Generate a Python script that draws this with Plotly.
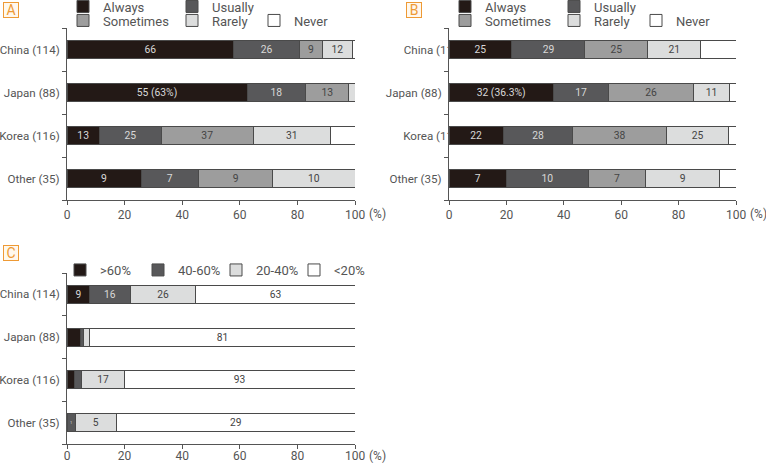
import plotly.graph_objects as go

W, H = 766, 463

# ---------------- data ----------------
categories = ["China (114)", "Japan (88)", "Korea (116)", "Other (35)"]
cat_pos = [0, 1, 2, 3]

freq_names = ["Always", "Usually", "Sometimes", "Rarely", "Never"]

a_always = [66, 55, 13, 9]
a_usually = [26, 18, 25, 7]
a_sometimes = [9, 13, 37, 9]
a_rarely = [12, 2, 31, 10]
a_never = [1, 0, 10, 0]
a_always_text = ["66", "55 (63%)", "13", "9"]
a_usually_text = ["26", "18", "25", "7"]
a_sometimes_text = ["9", "13", "37", "9"]
a_rarely_text = ["12", "", "31", "10"]
a_never_text = ["", "", "", ""]

b_always = [25, 32, 22, 7]
b_usually = [29, 17, 28, 10]
b_sometimes = [25, 26, 38, 7]
b_rarely = [21, 11, 25, 9]
b_never = [14, 2, 3, 2]
b_always_text = ["25", "32 (36.3%)", "22", "7"]
b_usually_text = ["29", "17", "28", "10"]
b_sometimes_text = ["25", "26", "38", "7"]
b_rarely_text = ["21", "11", "25", "9"]
b_never_text = ["", "", "", ""]

share_names = [">60%", "40-60%", "20-40%", "<20%"]
c_gt60 = [9, 4, 3, 0]
c_40_60 = [16, 1, 3, 1]
c_20_40 = [26, 2, 17, 5]
c_lt20 = [63, 81, 93, 29]
c_gt60_text = ["9", "", "", ""]
c_40_60_text = ["16", "", "", "1"]
c_20_40_text = ["26", "", "17", "5"]
c_lt20_text = ["63", "81", "93", "29"]

x_ticks = [0, 20, 40, 60, 80, 100]

# ---------------- style ----------------
FONT = "Roboto, 'Liberation Sans', Arial, sans-serif"
GRAY = "#555555"
LINE = "#4a4a4a"
C_ALWAYS = "#231916"
C_USUALLY = "#58585a"
C_SOMETIMES = "#9d9d9d"
C_RARELY = "#dcdddd"
C_NEVER = "#ffffff"
LIGHT_TXT = "#d8d8d8"
DARK_TXT = "#444444"
ORANGE = "#ee9a35"

fig = go.Figure()


def add_bar(vals, texts, name, color, txtcolor, xa, ya, legend):
    fig.add_trace(go.Bar(
        x=vals, y=cat_pos, orientation="h", name=name,
        text=texts, textposition="inside", insidetextanchor="middle",
        textangle=0,
        textfont=dict(family=FONT, size=12, color=txtcolor),
        marker=dict(color=color, line=dict(color=LINE, width=1)),
        xaxis=xa, yaxis=ya, legend=legend, hoverinfo="skip",
    ))


# Panel A
add_bar(a_always, a_always_text, freq_names[0], C_ALWAYS, LIGHT_TXT, "x", "y", "legend")
add_bar(a_usually, a_usually_text, freq_names[1], C_USUALLY, LIGHT_TXT, "x", "y", "legend")
add_bar(a_sometimes, a_sometimes_text, freq_names[2], C_SOMETIMES, DARK_TXT, "x", "y", "legend2")
add_bar(a_rarely, a_rarely_text, freq_names[3], C_RARELY, DARK_TXT, "x", "y", "legend2")
add_bar(a_never, a_never_text, freq_names[4], C_NEVER, DARK_TXT, "x", "y", "legend3")
# Panel B
add_bar(b_always, b_always_text, freq_names[0], C_ALWAYS, LIGHT_TXT, "x2", "y2", "legend4")
add_bar(b_usually, b_usually_text, freq_names[1], C_USUALLY, LIGHT_TXT, "x2", "y2", "legend4")
add_bar(b_sometimes, b_sometimes_text, freq_names[2], C_SOMETIMES, DARK_TXT, "x2", "y2", "legend5")
add_bar(b_rarely, b_rarely_text, freq_names[3], C_RARELY, DARK_TXT, "x2", "y2", "legend5")
add_bar(b_never, b_never_text, freq_names[4], C_NEVER, DARK_TXT, "x2", "y2", "legend6")
# helper (no marks) so the overlaid label axis of panel B exists
fig.add_trace(go.Scatter(x=[None], y=[None], xaxis="x2", yaxis="y4",
                         mode="markers", showlegend=False, hoverinfo="skip"))
# Panel C
add_bar(c_gt60, c_gt60_text, share_names[0], C_ALWAYS, LIGHT_TXT, "x3", "y3", "legend7")
add_bar(c_40_60, c_40_60_text, share_names[1], C_USUALLY, LIGHT_TXT, "x3", "y3", "legend7")
add_bar(c_20_40, c_20_40_text, share_names[2], C_RARELY, DARK_TXT, "x3", "y3", "legend7")
add_bar(c_lt20, c_lt20_text, share_names[3], C_NEVER, DARK_TXT, "x3", "y3", "legend7")


def px_x(p):
    return p / W


def px_y(p):
    return 1 - p / H


def xaxis_cfg(x0, x1, anchor, standoff=0):
    return dict(
        domain=[px_x(x0), px_x(x1)], anchor=anchor, range=[0, 100],
        tickmode="array", tickvals=x_ticks, ticks="outside", ticklen=4,
        tickcolor=GRAY, showline=True, linecolor=GRAY, linewidth=1,
        showgrid=False, zeroline=False, fixedrange=True,
        ticklabelstandoff=standoff,
        tickfont=dict(family=FONT, size=12, color=GRAY),
    )


def yaxis_cfg(y0, y1, anchor, tickvals, ticktext):
    return dict(
        domain=[px_y(y1), px_y(y0)], anchor=anchor, range=[3.5, -0.5],
        tickmode="array", tickvals=tickvals, ticktext=ticktext,
        ticks="outside", ticklen=4, tickcolor="rgba(0,0,0,0)",
        minor=dict(tickmode="array", tickvals=[-0.5, 0.5, 1.5, 2.5, 3.5],
                   ticks="outside", ticklen=4, tickcolor=GRAY),
        showline=True, linecolor=GRAY, linewidth=1,
        showgrid=False, zeroline=False, fixedrange=True,
        tickfont=dict(family=FONT, size=11.6, color=GRAY),
    )


ax_x = xaxis_cfg(67, 355, "y")
ax_x2 = xaxis_cfg(449, 736, "y2")
ax_x3 = xaxis_cfg(67, 355, "y3", standoff=-3)
ax_y = yaxis_cfg(28, 200, "x", cat_pos, categories)
ax_y2 = yaxis_cfg(28, 200, "x2", [1, 3], [categories[1], categories[3]])
ax_y3 = yaxis_cfg(273, 444, "x3", cat_pos, categories)
ax_y4 = dict(
    overlaying="y2", anchor="x2", side="left", type="linear",
    range=[3.5, -0.5],
    tickmode="array", tickvals=[0, 2], ticktext=[categories[0], categories[2]],
    ticks="outside", ticklen=4, tickcolor="rgba(0,0,0,0)",
    ticklabelstandoff=-22, layer="below traces",
    showline=False, showgrid=False, zeroline=False, fixedrange=True,
    tickfont=dict(family=FONT, size=11.6, color=GRAY),
)


def legend_cfg(cx, cy, ew):
    return dict(
        orientation="h", xref="container", yref="container",
        x=px_x(cx - 20), y=px_y(cy), xanchor="left", yanchor="middle",
        entrywidth=ew, entrywidthmode="pixels", traceorder="normal",
        font=dict(family=FONT, size=13, color=GRAY),
        bgcolor="rgba(0,0,0,0)", borderwidth=0, itemclick=False,
        itemdoubleclick=False,
    )


annotations = []
for letter, cx, cy in [("A", 10.5, 10), ("B", 413.5, 10), ("C", 10.5, 253)]:
    annotations.append(dict(
        text=letter, x=px_x(cx), y=px_y(cy), xref="paper", yref="paper",
        xanchor="center", yanchor="middle", showarrow=False,
        width=14, height=14, borderpad=0, borderwidth=1,
        bordercolor=ORANGE, bgcolor="#fff8ee",
        font=dict(family=FONT, size=14, color=ORANGE),
    ))
for xr, ty in [("x", 213.5), ("x2", 213.5), ("x3", 455.5)]:
    annotations.append(dict(
        text="(%)", x=100, xref=xr, y=px_y(ty), yref="paper",
        xanchor="left", yanchor="middle", xshift=12, showarrow=False,
        font=dict(family=FONT, size=12, color=GRAY),
    ))

fig.update_layout(
    width=W, height=H,
    margin=dict(l=0, r=0, t=0, b=0, autoexpand=False),
    paper_bgcolor="white", plot_bgcolor="white",
    barmode="stack", barnorm="percent", bargap=0.58,
    font=dict(family=FONT, size=12, color=GRAY),
    xaxis=ax_x, xaxis2=ax_x2, xaxis3=ax_x3,
    yaxis=ax_y, yaxis2=ax_y2, yaxis3=ax_y3, yaxis4=ax_y4,
    legend=legend_cfg(83, 6.5, 64),
    legend2=legend_cfg(83, 20.5, 64),
    legend3=legend_cfg(274, 20.5, 64),
    legend4=legend_cfg(465, 6.5, 64),
    legend5=legend_cfg(465, 20.5, 64),
    legend6=legend_cfg(656, 20.5, 64),
    legend7=legend_cfg(80, 270, 33),
    annotations=annotations,
    showlegend=True,
)

fig.write_html("out.html", config={"displayModeBar": False},
               post_script="document.body.style.margin='0px';")
